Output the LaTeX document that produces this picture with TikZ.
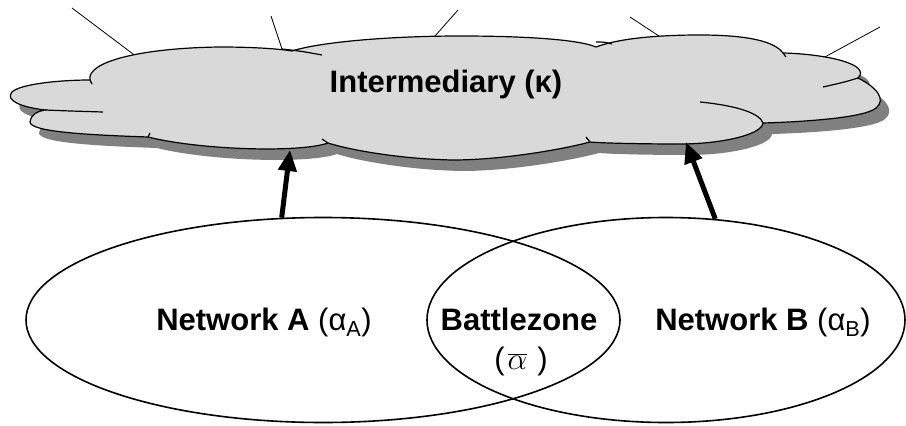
\documentclass[tikz,border=0pt]{standalone}
\usepackage{fontspec}
\setmainfont{Liberation Sans}
\usepackage{graphicx}
\usetikzlibrary{shapes.geometric,arrows.meta}
\definecolor{cloudfill}{RGB}{217,217,217}
\definecolor{cloudshadow}{RGB}{128,128,128}
\tikzset{
  netellipse/.style={ellipse, draw=black, line width=1.6pt, inner sep=0pt, minimum height=205pt},
  bigtext/.style={font=\fontsize{31}{37}\selectfont, text=black, inner sep=0pt, anchor=base},
  thickarrow/.style={line width=5pt, -{Triangle[length=21pt,width=18pt]}},
  ray/.style={line width=0.8pt},
  lobe/.style={line width=1.2pt}
}
\def\cloudpath{(90,80) .. controls (86,62) and (140,48) .. (220,47) .. controls (255,47) and (280,49) .. (292,51)
 .. controls (320,42) and (390,36) .. (460,36) .. controls (530,36) and (580,40) .. (596,47)
 .. controls (620,38) and (660,35) .. (700,35) .. controls (750,35) and (775,42) .. (783,53)
 .. controls (825,54) and (872,64) .. (858,78)
 .. controls (878,88) and (886,100) .. (876,108) .. controls (865,118) and (800,122) .. (763,123)
 .. controls (762,135) and (720,144) .. (680,144) .. controls (640,144) and (600,143) .. (590,142)
 .. controls (560,150) and (500,160) .. (453,160) .. controls (400,159) and (350,150) .. (328,143)
 .. controls (300,153) and (200,150) .. (148,137)
 .. controls (90,135) and (30,132) .. (30,122) .. controls (30,115) and (38,111) .. (45,110)
 .. controls (20,107) and (5,100) .. (12,92) .. controls (20,84) and (60,80) .. (90,80) -- cycle}
\begin{document}
\begin{tikzpicture}[x=1pt,y=-1pt]
\useasboundingbox (0,0) rectangle (906,426);
% rays behind the cloud
\draw[ray] (72,8) -- (137,57);
\draw[ray] (271,16) -- (283,52);
\draw[ray] (458,10) -- (427,45);
\draw[ray] (630,17) -- (662,38);
\draw[ray] (880,27) -- (823,58);
% cloud shadow and cloud
\fill[cloudshadow, shift={(9,11)}] \cloudpath;
\filldraw[fill=cloudfill, draw=black, lobe] \cloudpath;
% inner lobe strokes
\draw[lobe] (282,49) .. controls (300,51) .. (322,55);
\draw[lobe] (596,42) .. controls (604,42) .. (612,44);
\draw[lobe] (783,53) -- (786,57);
\draw[lobe] (858,78) .. controls (845,82) .. (823,87);
\draw[lobe] (700,102) .. controls (740,106) and (760,114) .. (763,123);
\draw[lobe] (590,142) -- (586,137);
\draw[lobe] (328,143) -- (322,139);
\draw[lobe] (148,137) -- (150,133);
\draw[lobe] (45,110) .. controls (70,111) .. (103,112);
\draw[lobe] (90,80) -- (92,84);
\node[bigtext] (inter) at (446,92) {\bfseries Intermediary (κ)};
% networks
\node[netellipse, minimum width=594pt] (A) at (323,320) {};
\node[netellipse, minimum width=478pt] (B) at (666,320) {};
\node[bigtext] (labA) at (264,330) {\textbf{Network A} (α\textsubscript{A})};
\node[bigtext] (labB) at (763,330) {\textbf{Network B} (α\textsubscript{B})};
\node[bigtext] (bz) at (519,330) {\bfseries Battlezone};
\node[bigtext] (bzb) at (521,369) {(\hspace{3pt}\scalebox{1.25}{\fontsize{24.88}{30}\selectfont$\overline{\alpha}$}\hspace{10pt})};
% arrows to the intermediary
\coordinate (cA) at (290,150);
\coordinate (cB) at (686,142);
\draw[thickarrow] (A.112) -- (cA);
\draw[thickarrow] (B.64) -- (cB);
\end{tikzpicture}
\end{document}
